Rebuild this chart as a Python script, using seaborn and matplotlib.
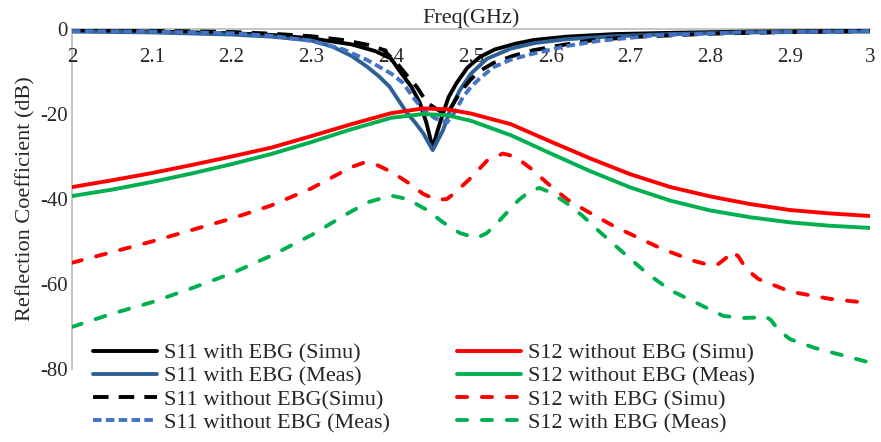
import numpy as np
import matplotlib
matplotlib.use("Agg")
import matplotlib.pyplot as plt
import seaborn as sns

# S11 curves (return loss)
f_s11_ebg_simu = [2.00, 2.05, 2.10, 2.15, 2.20, 2.25, 2.30, 2.35, 2.38, 2.40, 2.411, 2.425,
                  2.436, 2.444, 2.452, 2.458, 2.465, 2.472, 2.482, 2.495, 2.511, 2.53, 2.555,
                  2.578, 2.62, 2.68, 2.75, 2.85, 2.95, 3.00]
s11_ebg_simu = [-0.4, -0.5, -0.6, -0.8, -1.0, -1.4, -2.2, -3.6, -5.2, -7.0, -10.0, -13.5,
                -17.4, -22.0, -28.0, -24.0, -19.8, -16.0, -12.7, -9.2, -6.6, -4.8, -3.5,
                -2.6, -1.8, -1.2, -0.9, -0.6, -0.5, -0.4]

f_s11_ebg_meas = [2.00, 2.10, 2.20, 2.25, 2.30, 2.327, 2.35, 2.37, 2.385, 2.398, 2.41, 2.42,
                  2.43, 2.44, 2.452, 2.465, 2.474, 2.486, 2.50, 2.52, 2.55, 2.58, 2.62, 2.68,
                  2.75, 2.85, 3.00]
s11_ebg_meas = [-0.6, -0.8, -1.3, -1.8, -2.7, -4.2, -6.3, -8.9, -11.2, -13.6, -17.0, -19.8,
                -22.0, -24.5, -28.5, -23.8, -19.0, -14.4, -10.5, -7.0, -4.6, -3.3, -2.4, -1.7,
                -1.2, -0.8, -0.6]

f_s11_noebg_simu = [2.00, 2.10, 2.20, 2.25, 2.30, 2.34, 2.373, 2.39, 2.407, 2.42, 2.432, 2.445,
                    2.46, 2.470, 2.486, 2.499, 2.51, 2.528, 2.553, 2.578, 2.61, 2.65, 2.70,
                    2.80, 2.90, 3.00]
s11_noebg_simu = [-0.3, -0.4, -0.7, -1.1, -1.7, -2.6, -3.8, -4.9, -8.0, -11.0, -13.6, -17.4,
                  -19.2, -20.0, -15.0, -12.0, -10.0, -8.0, -6.3, -5.0, -3.9, -2.7, -1.9,
                  -1.1, -0.7, -0.5]

f_s11_noebg_meas = [2.00, 2.10, 2.20, 2.25, 2.30, 2.34, 2.37, 2.40, 2.415, 2.427, 2.44, 2.455,
                    2.47, 2.48, 2.49, 2.50, 2.51, 2.528, 2.55, 2.578, 2.62, 2.66, 2.73, 2.84,
                    3.00]
s11_noebg_meas = [-0.5, -0.6, -1.0, -1.6, -2.8, -4.8, -7.3, -10.5, -12.7, -16.0, -19.0, -21.0,
                  -22.0, -19.5, -16.0, -13.6, -11.8, -9.0, -7.2, -5.8, -4.0, -2.8, -1.5, -0.8,
                  -0.5]

# S12 curves (coupling)
f_s12_noebg = [2.00, 2.05, 2.10, 2.15, 2.20, 2.25, 2.30, 2.35, 2.40, 2.44, 2.47, 2.50, 2.55,
               2.60, 2.65, 2.70, 2.75, 2.80, 2.85, 2.90, 2.95, 3.00]
s12_noebg_simu = [-37.2, -35.6, -33.9, -32.0, -30.0, -27.9, -25.2, -22.4, -19.8, -18.7, -18.9,
                  -19.9, -22.4, -26.5, -30.5, -34.2, -37.2, -39.4, -41.2, -42.6, -43.4, -44.0]
s12_noebg_meas = [-39.3, -37.8, -36.0, -34.0, -31.8, -29.4, -26.6, -23.6, -20.9, -20.0, -20.3,
                  -21.6, -25.0, -29.3, -33.5, -37.3, -40.4, -42.7, -44.3, -45.5, -46.3, -46.8]

f_s12_ebg_simu = [2.00, 2.05, 2.10, 2.15, 2.20, 2.25, 2.30, 2.33, 2.35, 2.365, 2.38, 2.40,
                  2.42, 2.44, 2.457, 2.47, 2.48, 2.50, 2.52, 2.54, 2.555, 2.575, 2.60, 2.62,
                  2.64, 2.68, 2.74, 2.78, 2.80, 2.81, 2.82, 2.827, 2.835, 2.845, 2.86, 2.90,
                  2.95, 3.00]
s12_ebg_simu = [-55.0, -52.5, -50.0, -47.3, -44.6, -41.5, -37.5, -34.5, -32.5, -31.5, -31.8,
                -33.6, -36.0, -38.8, -40.2, -40.0, -38.5, -35.0, -31.0, -29.3, -30.0, -32.8,
                -37.0, -40.0, -42.3, -46.5, -51.8, -54.6, -55.6, -55.3, -53.8, -52.3, -53.5,
                -56.5, -58.8, -61.8, -63.5, -64.5]

f_s12_ebg_meas = [2.00, 2.05, 2.10, 2.15, 2.20, 2.25, 2.30, 2.34, 2.37, 2.40, 2.42, 2.445,
                  2.465, 2.486, 2.507, 2.52, 2.536, 2.56, 2.575, 2.586, 2.60, 2.62, 2.64, 2.66,
                  2.69, 2.72, 2.75, 2.783, 2.816, 2.84, 2.858, 2.868, 2.876, 2.886, 2.90, 2.93,
                  2.97, 3.00]
s12_ebg_meas = [-70.1, -67.0, -64.3, -61.0, -57.5, -53.3, -48.5, -44.0, -40.8, -39.2, -40.0,
                -42.6, -45.5, -48.0, -49.2, -48.0, -45.0, -40.2, -38.0, -37.4, -38.5, -41.0,
                -44.0, -47.5, -52.5, -57.4, -61.5, -64.5, -67.5, -68.0, -67.9, -67.5, -68.5,
                -71.0, -73.0, -75.0, -77.0, -78.5]

x_ticks = [2.0, 2.1, 2.2, 2.3, 2.4, 2.5, 2.6, 2.7, 2.8, 2.9, 3.0]
x_tick_labels = ["2", "2.1", "2.2", "2.3", "2.4", "2.5", "2.6", "2.7", "2.8", "2.9", "3"]
y_ticks = [0, -20, -40, -60, -80]
y_tick_labels = ["0", "-20", "-40", "-60", "-80"]

sns.set_style("white")
plt.rcParams["font.family"] = ["Liberation Serif", "DejaVu Serif"]
plt.rcParams["axes.unicode_minus"] = False

fig, ax = plt.subplots(figsize=(8.81, 4.42), dpi=100)
fig.subplots_adjust(left=72 / 881, right=870 / 881, top=1 - 29 / 442, bottom=1 - 369 / 442)

lw = 2.8
series = [
    (f_s11_ebg_simu, s11_ebg_simu, "S11 with EBG (Simu)", "#000000", "-", "butt"),
    (f_s11_ebg_meas, s11_ebg_meas, "S11 with EBG (Meas)", "#2E6096", "-", "butt"),
    (f_s11_noebg_simu, s11_noebg_simu, "S11 without EBG(Simu)", "#000000", (0, (4.0, 2.6)), "butt"),
    (f_s11_noebg_meas, s11_noebg_meas, "S11 without EBG (Meas)", "#4472C4", (0, (2.2, 1.1)), "butt"),
    (f_s12_noebg, s12_noebg_simu, "S12 without EBG (Simu)", "#FF0000", "-", "butt"),
    (f_s12_noebg, s12_noebg_meas, "S12 without EBG (Meas)", "#00B050", "-", "butt"),
    (f_s12_ebg_simu, s12_ebg_simu, "S12 with EBG (Simu)", "#FF0000", (0, (2.6, 3.8)), "round"),
    (f_s12_ebg_meas, s12_ebg_meas, "S12 with EBG (Meas)", "#00B050", (0, (2.6, 3.8)), "round"),
]
for fx, fy, name, col, ls, cap in series:
    sns.lineplot(x=fx, y=fy, ax=ax, color=col, linewidth=lw, linestyle=ls,
                 dash_capstyle=cap, label=name, sort=False)

ax.set_xlim(2, 3)
ax.set_ylim(-80, 0)
ax.set_xticks(x_ticks)
ax.set_xticklabels(x_tick_labels)
ax.set_yticks(y_ticks)
ax.set_yticklabels(y_tick_labels)
ax.tick_params(axis="both", length=0, labelsize=15)
ax.tick_params(axis="x", pad=14)
ax.tick_params(axis="y", pad=3)

ax.spines["bottom"].set_position(("data", 0))
for side in ["bottom", "left"]:
    ax.spines[side].set_color("#BFBFBF")
    ax.spines[side].set_linewidth(1.3)
    ax.spines[side].set_zorder(0.5)
ax.spines["top"].set_visible(False)
ax.spines["right"].set_visible(False)

ax.set_xlabel("")
ax.set_title("Freq(GHz)", fontsize=16, pad=4.5)
ax.set_ylabel("Reflection Coefficient (dB)", fontsize=16)
ax.yaxis.set_label_coords(-0.046, 0.5)

handles, labels = ax.get_legend_handles_labels()
ax.get_legend().remove()
fig.legend(handles, labels, ncol=2, loc="upper left", bbox_to_anchor=(93 / 881, 1 - 343 / 442),
           frameon=False, fontsize=16, borderpad=0, borderaxespad=0, handlelength=2.9,
           handletextpad=0.3, labelspacing=0.12, columnspacing=3.0)

plt.savefig("out.png", dpi=100)
